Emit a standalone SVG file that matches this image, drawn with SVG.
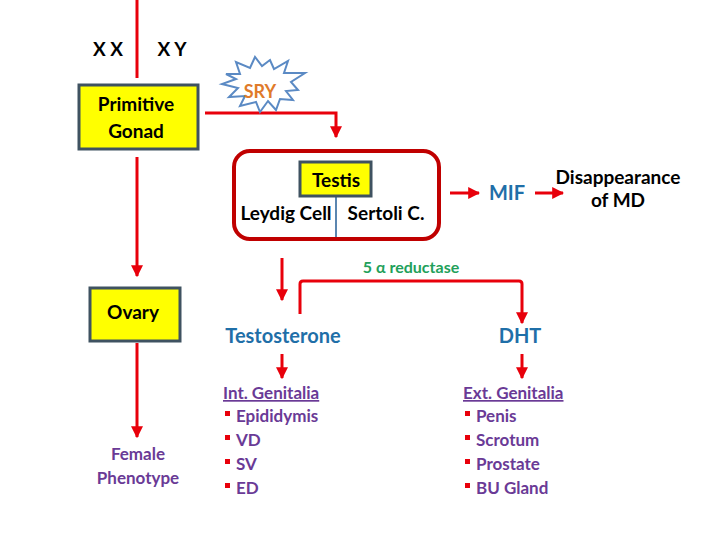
<svg xmlns="http://www.w3.org/2000/svg" width="720" height="540" viewBox="0 0 720 540">
<defs>
<marker id="ah" viewBox="0 0 10 10" refX="9" refY="5" markerWidth="4" markerHeight="4" orient="auto" markerUnits="strokeWidth"><path d="M0,0 L10,5 L0,10 z" fill="#e8000b"/></marker>
<style>
text{font-family:Lato,"Liberation Sans",sans-serif;font-weight:bold}
.c{stroke:#e8000b;stroke-width:3;fill:none}
.a{marker-end:url(#ah)}
.box{fill:#ffff00;stroke:#3f5261;stroke-width:3}
.k{fill:#000;font-size:19px;text-anchor:middle}
.b{fill:#1f6fa8;font-size:20px;text-anchor:middle}
.p{fill:#6a3a96;font-size:17px}
.sq{fill:#e8000b}
</style>
</defs>
<rect width="720" height="540" fill="#fff"/>
<g id="connectors">
<path class="c" d="M137,0 V78"/>
<path class="c a" d="M137,157 V276"/>
<path class="c a" d="M137,343 V437"/>
<path class="c a" d="M205,113 H336 V137"/>
<path class="c a" d="M450,193 H479"/>
<path class="c a" d="M535,193 H563"/>
<path class="c a" d="M282,258 V300"/>
<path class="c a" d="M300,314 V284 Q300,281 303,281 H519 Q522,281 522,284 V323"/>
<path class="c a" d="M282,354 V378"/>
<path class="c a" d="M522,354 V378"/>
<path d="M336,196 V240" stroke="#5b86b0" stroke-width="2"/>
</g>
<g id="xx"><text x="108" y="56" class="k">X X</text></g>
<g id="xy"><text x="172" y="56" class="k">X Y</text></g>
<g id="primitive-gonad"><rect class="box" x="79" y="85" width="119" height="64"/><text x="136" y="111" class="k">Primitive</text><text x="136" y="138" class="k">Gonad</text></g>
<g id="sry"><path d="M226,74 L240,74 L236,62 L250,68 L255,57 L262,66 L270,60 L274,69 L288,61 L284,73 L305,73 L291,82 L298,90 L286,91 L293,100 L280,99 L276,110 L268,101 L260,112 L256,102 L240,106 L245,96 L229,97 L238,88 L222,84 L236,79 Z" fill="#fff" stroke="#5b8ac4" stroke-width="2"/><text x="260" y="98" fill="#e07a2a" font-size="18" text-anchor="middle">SRY</text></g>
<g id="testis-group"><rect x="234" y="151" width="205" height="88" rx="16" fill="none" stroke="#c00000" stroke-width="4"/>
<rect class="box" x="300" y="162" width="71" height="34"/><text x="336" y="187" class="k" font-size="20">Testis</text>
<text x="286" y="220" class="k" font-size="16">Leydig Cell</text><text x="386" y="220" class="k" font-size="16">Sertoli C.</text></g>
<g id="mif"><text x="507" y="200" class="b">MIF</text></g>
<g id="md"><text x="618" y="184" class="k" font-size="17">Disappearance</text><text x="618" y="207" class="k" font-size="17">of MD</text></g>
<g id="reductase"><text x="411" y="273" fill="#22a05a" font-size="16" text-anchor="middle">5 α reductase</text></g>
<g id="ovary"><rect class="box" x="90" y="288" width="90" height="53"/><text x="133" y="319" class="k">Ovary</text></g>
<g id="female"><text x="138" y="460" class="p" text-anchor="middle">Female</text><text x="138" y="484" class="p" text-anchor="middle">Phenotype</text></g>
<g id="testosterone"><text x="283" y="343" class="b">Testosterone</text></g>
<g id="dht"><text x="520" y="343" class="b">DHT</text></g>
<g id="int"><text x="223" y="399" class="p" text-decoration="underline">Int. Genitalia</text>
<rect class="sq" x="225" y="411" width="5" height="5"/><text x="236" y="422" class="p">Epididymis</text>
<rect class="sq" x="225" y="435" width="5" height="5"/><text x="236" y="446" class="p">VD</text>
<rect class="sq" x="225" y="459" width="5" height="5"/><text x="236" y="470" class="p">SV</text>
<rect class="sq" x="225" y="483" width="5" height="5"/><text x="236" y="494" class="p">ED</text></g>
<g id="ext"><text x="463" y="399" class="p" text-decoration="underline">Ext. Genitalia</text>
<rect class="sq" x="465" y="411" width="5" height="5"/><text x="476" y="422" class="p">Penis</text>
<rect class="sq" x="465" y="435" width="5" height="5"/><text x="476" y="446" class="p">Scrotum</text>
<rect class="sq" x="465" y="459" width="5" height="5"/><text x="476" y="470" class="p">Prostate</text>
<rect class="sq" x="465" y="483" width="5" height="5"/><text x="476" y="494" class="p">BU Gland</text></g>
</svg>
